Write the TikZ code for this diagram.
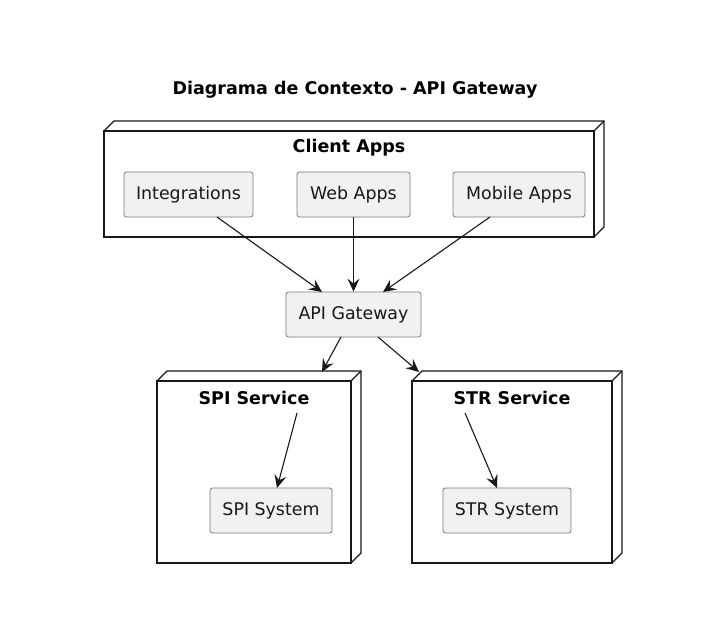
\documentclass[tikz,border=0pt]{standalone}
\usepackage{fontspec}
\setmainfont{DejaVu Sans}
\usetikzlibrary{arrows.meta}
\definecolor{boxfill}{HTML}{F1F1F1}
\definecolor{boxline}{HTML}{7A7A7A}
\definecolor{ink}{HTML}{181818}
\tikzset{
  comp/.style={draw=boxline, fill=boxfill, rounded corners=2.5pt, line width=0.8pt, inner sep=0pt, font=\fontsize{17.4}{20}\selectfont, text=ink},
  grp/.style={draw=ink, line width=1.2pt, line join=miter},
  lbl/.style={font=\bfseries\fontsize{17.5}{20}\selectfont, text=black, inner sep=0pt},
  conn/.style={draw=ink, line width=1.1pt, -{Stealth[length=13pt,width=12pt,inset=5pt]}}
}
\newcommand{\threed}[5]{% name, x1, y1, x2, y2 (front face)
  \pgfmathsetmacro{\xa}{#2}\pgfmathsetmacro{\ya}{#3}%
  \pgfmathsetmacro{\xb}{#4}\pgfmathsetmacro{\yb}{#5}%
  \pgfmathsetmacro{\xc}{#2+10}\pgfmathsetmacro{\yc}{#3-10}%
  \pgfmathsetmacro{\xd}{#4+10}\pgfmathsetmacro{\yd}{#5-10}%
  \fill[white] (\xa,\ya) -- (\xc,\yc) -- (\xd,\yc) -- (\xd,\yd) -- (\xb,\yb) -- (\xa,\yb) -- cycle;
  \draw[grp] (\xa,\ya) rectangle (\xb,\yb);
  \draw[grp] (\xa,\ya) -- (\xc,\yc) -- (\xd,\yc) -- (\xd,\yd) -- (\xb,\yb);
  \draw[grp] (\xb,\ya) -- (\xd,\yc);
}
\begin{document}
\begin{tikzpicture}[x=1pt,y=-1pt]
\useasboundingbox (0,0) rectangle (712,627);
\fill[white] (0,0) rectangle (712,627);
\node[lbl] (title) at (355,90) {Diagrama de Contexto - API Gateway};

% Client Apps group
\threed{client}{104}{131}{594}{237}
\node[lbl] (clientlbl) at (349,148) {Client Apps};
\node[comp, minimum width=129pt, minimum height=45pt] (integ) at (188.5,194.5) {Integrations};
\node[comp, minimum width=113pt, minimum height=45pt] (web) at (353.5,194.5) {Web Apps};
\node[comp, minimum width=132pt, minimum height=45pt] (mobile) at (519,194.5) {Mobile Apps};

\node[comp, minimum width=135pt, minimum height=45pt] (api) at (353.5,314.5) {API Gateway};

% SPI Service
\threed{spi}{157}{381}{351}{563}
\node[lbl] (spilbl) at (254,398) {SPI Service};
\node[comp, minimum width=122pt, minimum height=45pt] (spisys) at (271,510.5) {SPI System};

% STR Service
\threed{str}{412}{381}{612}{563}
\node[lbl] (strlbl) at (512,398) {STR Service};
\node[comp, minimum width=128pt, minimum height=45pt] (strsys) at (507,510.5) {STR System};

\coordinate (spiin) at (322,372);
\coordinate (strin) at (419,372);
\coordinate (apiinA) at (322,292);
\coordinate (apiinC) at (383,292);
\coordinate (integout) at (217,217);
\coordinate (mobout) at (490,217);
\coordinate (apioutA) at (341,337);
\coordinate (apioutB) at (378,337);
\coordinate (spilblout) at (297,413);
\coordinate (strlblout) at (465,413);
\coordinate (spisysin) at (277,488);
\coordinate (strsysin) at (497,488);

\draw[conn] (integout) -- (apiinA);
\draw[conn] (web.south) -- (api.north);
\draw[conn] (mobout) -- (apiinC);
\draw[conn] (apioutA) -- (spiin);
\draw[conn] (apioutB) -- (strin);
\draw[conn] (spilblout) -- (spisysin);
\draw[conn] (strlblout) -- (strsysin);
\end{tikzpicture}
\end{document}
